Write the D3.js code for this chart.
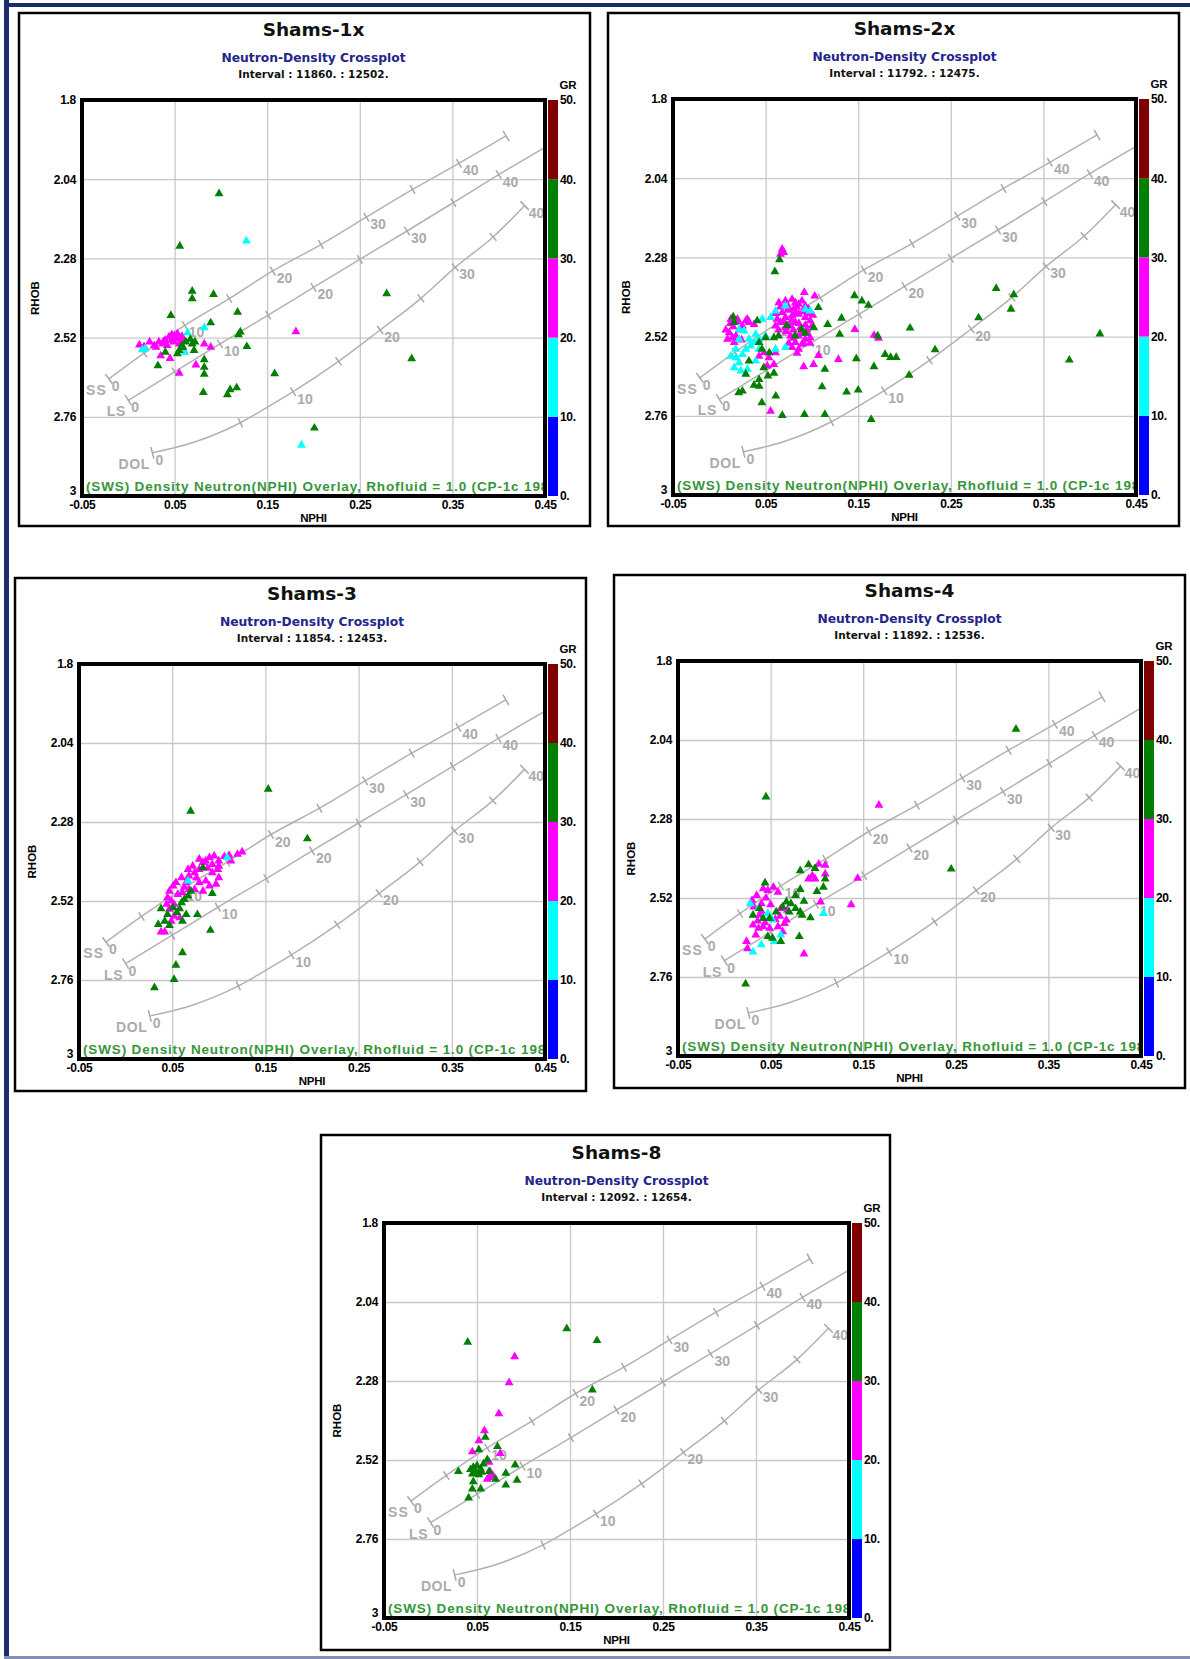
<!DOCTYPE html>
<html>
<head>
<meta charset="utf-8">
<script src="https://cdn.jsdelivr.net/npm/d3@7"></script>
<style>
  body { margin: 0; background: #fff; }
</style>
</head>
<body>
<svg id="page" width="1190" height="1659"></svg>
<script>
// ---- chart data ----
const wells = ["Shams-1x", "Shams-2x", "Shams-3", "Shams-4", "Shams-8"];
const intervals = [
  "Interval : 11860. : 12502.",
  "Interval : 11792. : 12475.",
  "Interval : 11854. : 12453.",
  "Interval : 11892. : 12536.",
  "Interval : 12092. : 12654."
];
const chartTitle = "Neutron-Density Crossplot";
const overlayNote = "(SWS) Density Neutron(NPHI) Overlay, Rhofluid = 1.0 (CP-1c 1989)";

const xTickValues = [-0.05, 0.05, 0.15, 0.25, 0.35, 0.45];
const xTickLabels = ["-0.05", "0.05", "0.15", "0.25", "0.35", "0.45"];
const yTickValues = [1.8, 2.04, 2.28, 2.52, 2.76, 3];
const yTickLabels = ["1.8", "2.04", "2.28", "2.52", "2.76", "3"];
const grTickValues = [0, 10, 20, 30, 40, 50];
const grTickLabels = ["0.", "10.", "20.", "30.", "40.", "50."];
const grBandColors = ["#0000ff", "#00ffff", "#ff00ff", "#007f00", "#800000"];

// lithology overlay lines (porosity %, NPHI, RHOB)
const lithNames = ["SS", "LS", "DOL"];
const ssPorosity = [0, 5, 10, 15, 20, 25, 30, 35, 40, 45];
const ssNphi = [-0.021, 0.017, 0.061, 0.109, 0.156, 0.208, 0.257, 0.307, 0.357, 0.408];
const ssRhob = [2.645, 2.567, 2.483, 2.402, 2.318, 2.238, 2.155, 2.071, 1.992, 1.909];
const lsPorosity = [0, 5, 10, 15, 20, 25, 30, 35, 40, 45];
const lsNphi = [0.000, 0.050, 0.099, 0.151, 0.200, 0.250, 0.301, 0.351, 0.400, 0.452];
const lsRhob = [2.710, 2.624, 2.539, 2.452, 2.368, 2.283, 2.197, 2.111, 2.026, 1.940];
const dolPorosity = [0, null, 5, null, 10, 15, 20, 25, 30, 35, 40];
const dolNphi = [0.026, 0.070, 0.121, 0.149, 0.178, 0.227, 0.272, 0.316, 0.353, 0.394, 0.428];
const dolRhob = [2.869, 2.838, 2.778, 2.733, 2.684, 2.592, 2.497, 2.401, 2.307, 2.215, 2.120];

// points: [NPHI, RHOB, GR]
const shams1xPoints = [
  [0.012,2.542,25],[0.017,2.547,25],[0.023,2.533,25],[0.028,2.544,25],[0.033,2.533,25],[0.035,2.575,25],
  [0.045,2.583,25],[0.055,2.628,25],[0.073,2.603,25],[0.082,2.539,25],[0.089,2.549,25],[0.181,2.502,25],
  [0.040,2.528,25],[0.044,2.518,25],[0.047,2.511,25],[0.051,2.523,25],[0.053,2.508,25],[0.049,2.533,25],
  [0.056,2.523,25],[0.060,2.528,25],[0.037,2.539,25],[0.030,2.549,25],[0.042,2.544,25],[0.055,2.539,25],
  [0.050,2.515,25],[0.058,2.516,25],[0.047,2.527,25],[0.038,2.532,25],
  [0.1275,2.227,15],[0.187,2.846,15],[0.064,2.505,15],[0.082,2.490,15],[0.061,2.564,15],[0.015,2.557,15],[0.018,2.554,15],
  [0.098,2.084,35],[0.0556,2.243,35],[0.279,2.387,35],[0.306,2.584,35],[0.201,2.794,35],
  [0.069,2.379,35],[0.069,2.402,35],[0.092,2.389,35],[0.046,2.453,35],[0.089,2.475,35],[0.118,2.443,35],
  [0.119,2.511,35],[0.121,2.503,35],[0.128,2.547,35],[0.158,2.629,35],[0.082,2.587,35],[0.082,2.610,35],
  [0.082,2.631,35],[0.081,2.686,35],[0.107,2.693,35],[0.110,2.678,35],[0.117,2.672,35],[0.032,2.605,35],
  [0.040,2.564,35],[0.053,2.569,35],[0.055,2.559,35],[0.058,2.544,35],[0.067,2.525,35],[0.069,2.539,35],
  [0.071,2.559,35],[0.072,2.533,35],[0.062,2.533,35],[0.059,2.550,35]
];

const shams2xPoints = [
  [0.0643,2.417,25],[0.0714,2.412,25],[0.0786,2.407,25],[0.0821,2.417,25],[0.0857,2.422,25],[0.0893,2.412,25],
  [0.0929,2.427,25],[0.0964,2.437,25],[0.0804,2.437,25],[0.0750,2.432,25],[0.0679,2.447,25],[0.0714,2.462,25],
  [0.0786,2.457,25],[0.0857,2.452,25],[0.0929,2.462,25],[0.0982,2.472,25],[0.1000,2.488,25],[0.0946,2.498,25],
  [0.0875,2.493,25],[0.0821,2.477,25],[0.0768,2.488,25],[0.0714,2.493,25],[0.0661,2.477,25],[0.0625,2.467,25],
  [0.0607,2.488,25],[0.0857,2.518,25],[0.0929,2.528,25],[0.0982,2.523,25],[0.0893,2.543,25],[0.0821,2.538,25],
  [0.0768,2.518,25],[0.0857,2.558,25],[0.0786,2.553,25],
  [0.066,2.430,25],[0.074,2.440,25],[0.082,2.450,25],[0.090,2.445,25],[0.097,2.450,25],[0.070,2.475,25],
  [0.078,2.470,25],[0.086,2.480,25],[0.093,2.485,25],[0.064,2.500,25],[0.072,2.505,25],[0.080,2.500,25],
  [0.088,2.510,25],[0.095,2.510,25],[0.080,2.525,25],[0.091,2.540,25],[0.075,2.540,25],[0.0835,2.430,25],
  [0.061,2.450,25],[0.101,2.455,25],[0.098,2.540,25],[0.084,2.570,25],
  [0.0107,2.508,25],[0.0143,2.523,25],[0.0089,2.528,25],[0.0179,2.518,25],[0.0125,2.467,25],[0.0196,2.467,25],
  [0.0304,2.467,25],[0.0321,2.477,25],[0.0375,2.483,25],[0.0250,2.488,25],[0.0161,2.538,25],[0.0286,2.472,25],
  [0.015,2.490,25],[0.022,2.500,25],[0.007,2.500,25],[0.012,2.480,25],[0.024,2.530,25],[0.020,2.475,25],
  [0.0429,2.579,25],[0.0482,2.569,25],[0.0536,2.584,25],[0.0589,2.604,25],[0.0518,2.609,25],[0.0607,2.569,25],
  [0.0918,2.386,25],[0.103,2.397,25],[0.1464,2.498,25],[0.1671,2.516,25],[0.172,2.525,25],[0.1286,2.589,25],
  [0.1018,2.604,25],[0.0911,2.611,25],[0.1071,2.577,25],[0.0554,2.746,25],[0.0679,2.255,25],[0.0696,2.265,25],
  [0.0661,2.270,25],
  [0.0161,2.614,15],[0.0214,2.599,15],[0.0179,2.584,15],[0.0250,2.574,15],[0.0125,2.579,15],[0.0286,2.558,15],
  [0.0339,2.548,15],[0.0375,2.538,15],[0.0429,2.528,15],[0.0393,2.513,15],[0.0500,2.518,15],[0.0554,2.462,15],
  [0.0464,2.467,15],[0.0607,2.442,15],[0.0714,2.427,15],[0.0929,2.437,15],[0.0982,2.442,15],[0.0268,2.503,15],
  [0.0214,2.498,15],[0.0321,2.528,15],[0.0429,2.558,15],[0.0607,2.558,15],[0.0714,2.553,15],[0.0214,2.528,15],
  [0.0179,2.558,15],[0.0304,2.619,15],[0.0232,2.624,15],[0.0393,2.594,15],
  [0.299,2.374,35],[0.318,2.393,35],[0.315,2.437,35],[0.280,2.463,35],[0.206,2.494,35],[0.411,2.512,35],
  [0.378,2.591,35],[0.233,2.560,35],[0.185,2.583,35],[0.191,2.583,35],[0.205,2.637,35],
  [0.065,2.287,35],[0.060,2.323,35],[0.107,2.432,35],[0.117,2.483,35],[0.132,2.464,35],[0.130,2.513,35],
  [0.146,2.396,35],[0.154,2.412,35],[0.161,2.425,35],[0.171,2.518,35],[0.179,2.574,35],[0.148,2.587,35],
  [0.167,2.611,35],[0.114,2.619,35],[0.111,2.672,35],[0.1375,2.688,35],[0.150,2.682,35],[0.164,2.771,35],
  [0.114,2.756,35],[0.092,2.756,35],[0.068,2.759,35],[0.046,2.720,35],[0.061,2.700,35],[0.021,2.690,35],
  [0.025,2.685,35],[0.0375,2.667,35],[0.043,2.670,35],[0.043,2.650,35],[0.0286,2.634,35],[0.059,2.631,35],
  [0.0525,2.639,35],[0.048,2.614,35],[0.032,2.594,35],[0.015,2.460,35],[0.016,2.477,35],[0.041,2.472,35],
  [0.073,2.486,35],[0.093,2.510,35],[0.102,2.493,35],[0.050,2.523,35],[0.059,2.523,35],[0.046,2.558,35],
  [0.054,2.569,35],[0.043,2.538,35],[0.082,2.518,35],[0.089,2.498,35],[0.064,2.518,35]
];

const shams3Points = [
  [0.125,2.371,25],[0.120,2.378,25],[0.111,2.381,25],[0.106,2.385,25],[0.113,2.398,25],[0.100,2.398,25],
  [0.093,2.409,25],[0.099,2.424,25],[0.086,2.398,25],[0.083,2.403,25],[0.079,2.424,25],[0.072,2.414,25],
  [0.074,2.434,25],[0.068,2.444,25],[0.093,2.434,25],[0.100,2.449,25],[0.097,2.469,25],[0.090,2.474,25],
  [0.086,2.459,25],[0.079,2.464,25],[0.083,2.490,25],[0.074,2.485,25],[0.065,2.464,25],[0.060,2.449,25],
  [0.054,2.464,25],[0.051,2.474,25],[0.047,2.490,25],[0.045,2.510,25],[0.049,2.520,25],[0.044,2.530,25],
  [0.052,2.530,25],[0.047,2.545,25],[0.052,2.566,25],[0.058,2.571,25],[0.049,2.581,25],[0.038,2.614,25],
  [0.042,2.614,25],[0.068,2.485,25],[0.061,2.495,25],[0.076,2.449,25],[0.067,2.424,25],[0.090,2.388,25],
  [0.095,2.383,25],[0.079,2.393,25],[0.100,2.414,25],[0.056,2.500,25],[0.063,2.478,25],[0.088,2.420,25],
  [0.109,2.388,15],[0.067,2.459,15],
  [0.153,2.180,35],[0.0698,2.247,35],[0.195,2.331,35],
  [0.038,2.543,35],[0.045,2.561,35],[0.035,2.591,35],[0.042,2.581,35],[0.047,2.594,35],[0.061,2.581,35],
  [0.077,2.561,35],[0.091,2.609,35],[0.061,2.677,35],[0.054,2.715,35],[0.052,2.758,35],[0.031,2.783,35],
  [0.058,2.543,35],[0.055,2.555,35],[0.060,2.525,35],[0.063,2.515,35],[0.067,2.505,35],[0.070,2.490,35],
  [0.083,2.419,35],[0.093,2.497,35],[0.065,2.561,35],[0.051,2.540,35]
];

const shams4Points = [
  [0.167,2.238,25],[0.025,2.674,25],
  [0.102,2.417,25],[0.109,2.420,25],[0.109,2.447,25],[0.095,2.452,25],[0.091,2.462,25],[0.098,2.462,25],
  [0.144,2.460,25],[0.137,2.540,25],[0.104,2.532,25],[0.086,2.690,25],[0.042,2.492,25],[0.047,2.497,25],
  [0.053,2.487,25],[0.058,2.502,25],[0.035,2.512,25],[0.030,2.527,25],[0.032,2.547,25],[0.038,2.572,25],
  [0.031,2.602,25],[0.037,2.612,25],[0.042,2.607,25],[0.049,2.612,25],[0.058,2.607,25],[0.065,2.597,25],
  [0.061,2.552,25],[0.068,2.557,25],[0.040,2.537,25],[0.024,2.652,25],[0.034,2.632,25],[0.063,2.622,25],
  [0.067,2.587,25],[0.045,2.520,25],[0.050,2.540,25],[0.036,2.590,25],[0.044,2.595,25],[0.055,2.585,25],
  [0.060,2.575,25],[0.040,2.560,25],
  [0.037,2.552,15],[0.049,2.577,15],[0.052,2.587,15],[0.047,2.567,15],[0.054,2.652,15],[0.040,2.662,15],
  [0.031,2.684,15],[0.107,2.567,15],[0.061,2.632,15],[0.028,2.537,15],
  [0.315,2.007,35],[0.045,2.213,35],[0.245,2.432,35],[0.023,2.781,35],
  [0.091,2.419,35],[0.082,2.437,35],[0.098,2.430,35],[0.109,2.462,35],[0.107,2.487,35],[0.100,2.500,35],
  [0.082,2.494,35],[0.044,2.474,35],[0.067,2.532,35],[0.072,2.537,35],[0.077,2.552,35],[0.086,2.530,35],
  [0.093,2.580,35],[0.082,2.562,35],[0.070,2.562,35],[0.063,2.547,35],[0.056,2.562,35],[0.049,2.582,35],
  [0.042,2.582,35],[0.038,2.552,35],[0.031,2.572,35],[0.047,2.637,35],[0.052,2.642,35],[0.061,2.652,35],
  [0.081,2.637,35],[0.084,2.572,35],[0.077,2.512,35]
];

const shams8Points = [
  [0.0905,2.206,25],[0.0845,2.285,25],[0.0735,2.379,25],[0.058,2.431,25],[0.052,2.461,25],[0.045,2.495,25],
  [0.075,2.500,25],[0.063,2.527,25],[0.064,2.555,25],[0.063,2.573,25],[0.067,2.567,25],[0.061,2.578,25],
  [0.1465,2.121,35],[0.179,2.157,35],[0.040,2.162,35],[0.174,2.307,35],[0.059,2.451,35],[0.052,2.489,35],
  [0.072,2.479,35],[0.061,2.519,35],[0.030,2.555,35],[0.043,2.549,35],[0.046,2.542,35],[0.050,2.537,35],
  [0.054,2.547,35],[0.048,2.557,35],[0.045,2.562,35],[0.052,2.565,35],[0.057,2.532,35],[0.055,2.557,35],
  [0.046,2.586,35],[0.045,2.608,35],[0.054,2.608,35],[0.041,2.635,35],[0.070,2.578,35],[0.081,2.560,35],
  [0.081,2.596,35],[0.091,2.535,35],[0.093,2.581,35],[0.063,2.555,35]
];

const panelPoints = [shams1xPoints, shams2xPoints, shams3Points, shams4Points, shams8Points];

// ---- layout (page pixels) ----
const panelBoxes = [[19, 13, 571, 513], [608, 13, 571, 513], [15, 578, 571, 513], [614, 575, 571, 513], [321, 1135, 569, 515]];
const plotRects = [[82, 100, 463, 396], [673, 99, 463, 396], [79, 664, 466, 395], [678, 661, 463, 395], [384, 1223, 465, 395]];

const svg = d3.select("#page");
const labelFont = "'Liberation Sans', Arial, sans-serif";
const titleFont = "'DejaVu Sans', Verdana, sans-serif";

// page frame
svg.append("rect").attr("x", 0).attr("y", 0).attr("width", 1190).attr("height", 1659).attr("fill", "#fff");
svg.append("rect").attr("x", 4).attr("y", 0).attr("width", 5).attr("height", 1659).attr("fill", "#1b2d6b");
svg.append("rect").attr("x", 4).attr("y", 3).attr("width", 1186).attr("height", 4).attr("fill", "#1b2d6b");
svg.append("rect").attr("x", 4).attr("y", 1656).attr("width", 1186).attr("height", 3).attr("fill", "#8290b2");

function drawPanel(i) {
  const [bx, by, bw, bh] = panelBoxes[i];
  const [px, py, pw, ph] = plotRects[i];
  const x = d3.scaleLinear().domain([-0.05, 0.45]).range([px, px + pw]);
  const y = d3.scaleLinear().domain([1.8, 3]).range([py, py + ph]);
  const grScale = d3.scaleLinear().domain([0, 50]).range([py + ph, py]);
  const color = d3.scaleThreshold().domain([10, 20, 30, 40]).range(grBandColors);
  const cx = px + pw / 2;

  const g = svg.append("g");

  g.append("rect").attr("x", bx).attr("y", by).attr("width", bw).attr("height", bh)
    .attr("fill", "#fff").attr("stroke", "#000").attr("stroke-width", 2.5);

  // titles
  g.append("text").attr("x", cx).attr("y", py - 64).attr("text-anchor", "middle")
    .attr("font-family", titleFont).attr("font-weight", "bold").attr("font-size", 18.5)
    .attr("fill", "#111").text(wells[i]);
  g.append("text").attr("x", cx).attr("y", py - 38).attr("text-anchor", "middle")
    .attr("font-family", titleFont).attr("font-weight", "bold").attr("font-size", 12.3)
    .attr("fill", "#24248a").text(chartTitle);
  g.append("text").attr("x", cx).attr("y", py - 22).attr("text-anchor", "middle")
    .attr("font-family", titleFont).attr("font-weight", "bold").attr("font-size", 10.5)
    .attr("fill", "#111").text(intervals[i]);

  const clipId = "clip" + i;
  g.append("clipPath").attr("id", clipId).append("rect")
    .attr("x", px).attr("y", py).attr("width", pw).attr("height", ph);

  // grid
  g.append("g").attr("transform", `translate(0,${py + ph})`)
    .call(d3.axisBottom(x).tickValues(xTickValues.slice(1, -1)).tickSize(-ph).tickFormat(""))
    .call(a => a.select(".domain").remove())
    .call(a => a.selectAll("line").attr("stroke", "#c8c8c8").attr("stroke-width", 1.3));
  g.append("g").attr("transform", `translate(${px},0)`)
    .call(d3.axisLeft(y).tickValues(yTickValues.slice(1, -1)).tickSize(-pw).tickFormat(""))
    .call(a => a.select(".domain").remove())
    .call(a => a.selectAll("line").attr("stroke", "#c8c8c8").attr("stroke-width", 1.3));

  // lithology overlay
  const ov = g.append("g").attr("clip-path", `url(#${clipId})`);
  const lines = [
    { por: ssPorosity, nphi: ssNphi, rhob: ssRhob },
    { por: lsPorosity, nphi: lsNphi, rhob: lsRhob },
    { por: dolPorosity, nphi: dolNphi, rhob: dolRhob }
  ];
  const lineGen = d3.line().x(d => x(d[0])).y(d => y(d[1])).curve(d3.curveMonotoneX);
  lines.forEach((L, li) => {
    const pts = L.nphi.map((v, k) => [v, L.rhob[k], L.por[k]]);
    ov.append("path").attr("d", lineGen(pts)).attr("fill", "none")
      .attr("stroke", "#b2b2b2").attr("stroke-width", 1.5);
    pts.forEach((p, k) => {
      if (p[2] === null) return;
      const a = pts[Math.max(0, k - 1)], b = pts[Math.min(pts.length - 1, k + 1)];
      const dx = x(b[0]) - x(a[0]), dy = y(b[1]) - y(a[1]);
      const len = Math.hypot(dx, dy);
      const nx = -dy / len, ny = dx / len;
      const half = (k === 0 || k === pts.length - 1) ? 6 : 5;
      const X = x(p[0]), Y = y(p[1]);
      ov.append("line").attr("x1", X - nx * half).attr("y1", Y - ny * half)
        .attr("x2", X + nx * half).attr("y2", Y + ny * half)
        .attr("stroke", "#a8a8a8").attr("stroke-width", 1.5);
      const lab = t => ov.append("text").attr("font-family", labelFont).attr("font-weight", "bold")
        .attr("font-size", 14).attr("fill", "#ababab").text(t);
      if (p[2] === 0) {
        lab("0").attr("x", X + 3).attr("y", Y + 12);
        const ls = li === 0 ? 1.2 : 0.6;
        lab(lithNames[li]).attr("x", X - 3 + ls).attr("y", Y + 16).attr("text-anchor", "end")
          .attr("letter-spacing", ls);
      } else if (p[2] % 10 === 0 && p[2] <= 40) {
        lab(String(p[2])).attr("x", X + 4).attr("y", Y + 12);
      }
    });
  });

  // points
  const sym = d3.symbol(d3.symbolTriangle, 34);
  g.append("g").attr("clip-path", `url(#${clipId})`)
    .selectAll("path").data(panelPoints[i]).join("path")
    .attr("transform", d => `translate(${x(d[0])},${y(d[1])})`)
    .attr("d", sym)
    .attr("fill", d => color(d[2]));

  // overlay note
  g.append("text").attr("clip-path", `url(#${clipId})`)
    .attr("x", px + 4).attr("y", py + ph - 5)
    .attr("font-family", labelFont).attr("font-weight", "bold").attr("font-size", 13.5)
    .attr("letter-spacing", 0.85).attr("fill", "#36963a").text(overlayNote);

  // plot border
  g.append("rect").attr("x", px).attr("y", py).attr("width", pw).attr("height", ph)
    .attr("fill", "none").attr("stroke", "#000").attr("stroke-width", 4);

  // axes labels
  const styleAxis = a => {
    a.select(".domain").remove();
    a.selectAll("text").attr("font-family", labelFont).attr("font-weight", "bold")
      .attr("font-size", 12).attr("letter-spacing", -0.3).attr("fill", "#000");
  };
  g.append("g").attr("transform", `translate(0,${py + ph})`)
    .call(d3.axisBottom(x).tickValues(xTickValues).tickFormat((d, k) => xTickLabels[k]).tickSize(0).tickPadding(4))
    .call(styleAxis);
  g.append("g").attr("transform", `translate(${px - 3},0)`)
    .call(d3.axisLeft(y).tickValues(yTickValues).tickFormat((d, k) => yTickLabels[k]).tickSize(0).tickPadding(3))
    .call(styleAxis)
    .call(a => a.selectAll(".tick").filter(d => d === 3).select("text").attr("dy", "-0.15em"));

  g.append("text").attr("x", cx).attr("y", py + ph + 26).attr("text-anchor", "middle")
    .attr("font-family", labelFont).attr("font-weight", "bold").attr("font-size", 11.5)
    .attr("letter-spacing", -0.3).text("NPHI");
  g.append("text").attr("transform", `translate(${px - 43},${py + ph / 2}) rotate(-90)`)
    .attr("text-anchor", "middle")
    .attr("font-family", labelFont).attr("font-weight", "bold").attr("font-size", 11.5).text("RHOB");

  // GR colour bar
  const cbx = px + pw + 3, cbw = 10;
  g.append("g").selectAll("rect").data(grBandColors).join("rect")
    .attr("x", cbx).attr("width", cbw)
    .attr("y", (c, k) => grScale((k + 1) * 10))
    .attr("height", (c, k) => grScale(k * 10) - grScale((k + 1) * 10))
    .attr("fill", c => c);
  g.append("g").attr("transform", `translate(${cbx + cbw},0)`)
    .call(d3.axisRight(grScale).tickValues(grTickValues).tickFormat((d, k) => grTickLabels[k]).tickSize(0).tickPadding(2))
    .call(styleAxis);
  g.append("text").attr("x", cbx + cbw + 10).attr("y", py - 11).attr("text-anchor", "middle")
    .attr("font-family", labelFont).attr("font-weight", "bold").attr("font-size", 11.5).text("GR");
}

wells.forEach((w, i) => drawPanel(i));
</script>
</body>
</html>
